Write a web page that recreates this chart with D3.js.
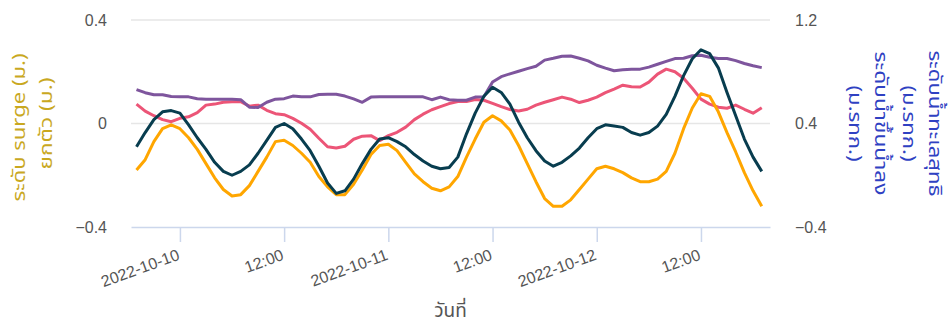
<!DOCTYPE html>
<html>
<head>
<meta charset="utf-8">
<script src="https://cdn.jsdelivr.net/npm/d3@7"></script>
<style>
  body { margin: 0; background: #fff; }
  svg { display: block; font-family: "Noto Sans Thai", "Noto Sans", "Open Sans", sans-serif; }
  .tick text { fill: #555; font-size: 16px; }
</style>
</head>
<body>
<div id="chart"></div>
<script>
// hourly samples, 2022-10-09 19:00 .. 2022-10-12 19:00
const times = d3.utcHour.range(new Date(Date.UTC(2022, 9, 9, 19)), new Date(Date.UTC(2022, 9, 12, 20)))

// ระดับน้ำขึ้นน้ำลง (right axis)
const tide = [0.04, 0.12, 0.26, 0.36, 0.39, 0.36, 0.29, 0.20, 0.09, -0.02, -0.11, -0.16, -0.15, -0.08, 0.03, 0.14,
  0.26, 0.27, 0.23, 0.17, 0.10, -0.01, -0.09, -0.15, -0.15, -0.07, 0.04, 0.16, 0.23, 0.24, 0.19, 0.10,
  0.01, -0.05, -0.10, -0.12, -0.09, -0.01, 0.14, 0.28, 0.41, 0.46, 0.42, 0.35, 0.23, 0.09, -0.05, -0.18,
  -0.24, -0.24, -0.19, -0.11, -0.03, 0.05, 0.07, 0.05, 0.02, -0.02, -0.05, -0.05, -0.03, 0.03, 0.17, 0.36,
  0.52, 0.63, 0.61, 0.49, 0.33, 0.18, 0.02, -0.12, -0.24]

// ระดับน้ำทะเลสุทธิ (right axis)
const netLevel = [0.22, 0.33, 0.43, 0.49, 0.50, 0.48, 0.39, 0.29, 0.20, 0.10, 0.03, 0.00, 0.03, 0.08, 0.17, 0.27,
  0.37, 0.40, 0.36, 0.28, 0.19, 0.07, -0.06, -0.14, -0.12, -0.03, 0.09, 0.20, 0.28, 0.29, 0.26, 0.22,
  0.16, 0.11, 0.07, 0.05, 0.06, 0.14, 0.32, 0.48, 0.61, 0.68, 0.64, 0.55, 0.41, 0.29, 0.19, 0.11,
  0.07, 0.10, 0.15, 0.21, 0.29, 0.36, 0.39, 0.38, 0.37, 0.33, 0.31, 0.33, 0.38, 0.47, 0.61, 0.77,
  0.90, 0.97, 0.94, 0.83, 0.64, 0.46, 0.28, 0.14, 0.03]

// ระดับ surge (left axis)
const surge = [0.075, 0.048, 0.030, 0.015, 0.007, 0.020, 0.026, 0.042, 0.071, 0.075, 0.082, 0.084, 0.084, 0.067, 0.071, 0.051,
  0.038, 0.034, 0.020, 0.001, -0.022, -0.057, -0.090, -0.095, -0.088, -0.061, -0.049, -0.047, -0.066, -0.047, -0.034, -0.014,
  0.015, 0.036, 0.053, 0.065, 0.077, 0.085, 0.085, 0.093, 0.090, 0.078, 0.065, 0.054, 0.048, 0.055, 0.071, 0.082,
  0.092, 0.102, 0.094, 0.081, 0.090, 0.102, 0.119, 0.133, 0.148, 0.142, 0.141, 0.160, 0.191, 0.210, 0.200, 0.175,
  0.136, 0.094, 0.075, 0.063, 0.059, 0.071, 0.055, 0.040, 0.061]

// ยกตัว (left axis)
const rise = [0.131, 0.119, 0.111, 0.111, 0.104, 0.103, 0.103, 0.096, 0.094, 0.094, 0.094, 0.094, 0.092, 0.063, 0.062, 0.082,
  0.094, 0.096, 0.106, 0.103, 0.103, 0.112, 0.113, 0.113, 0.106, 0.095, 0.082, 0.102, 0.103, 0.103, 0.103, 0.103,
  0.103, 0.103, 0.092, 0.102, 0.092, 0.090, 0.090, 0.102, 0.103, 0.160, 0.181, 0.192, 0.202, 0.212, 0.221, 0.245,
  0.252, 0.260, 0.261, 0.252, 0.242, 0.225, 0.214, 0.204, 0.208, 0.210, 0.210, 0.218, 0.229, 0.240, 0.251, 0.252,
  0.262, 0.264, 0.256, 0.251, 0.251, 0.243, 0.232, 0.223, 0.216]

const xTickTimes = [new Date(Date.UTC(2022, 9, 10, 0)), new Date(Date.UTC(2022, 9, 10, 12)),
  new Date(Date.UTC(2022, 9, 11, 0)), new Date(Date.UTC(2022, 9, 11, 12)),
  new Date(Date.UTC(2022, 9, 12, 0)), new Date(Date.UTC(2022, 9, 12, 12))]
const xTickLabels = ['2022-10-10', '12:00', '2022-10-11', '12:00', '2022-10-12', '12:00']
const leftTicks = [-0.4, 0, 0.4]
const rightTicks = [-0.4, 0.4, 1.2]

const width = 950
const height = 329
const margin = { top: 20, right: 180, bottom: 102, left: 131 }

const svg = d3.select('#chart').append('svg')
  .attr('width', width)
  .attr('height', height)

const x = d3.scaleUtc()
  .domain([new Date(Date.UTC(2022, 9, 9, 18, 22)), new Date(Date.UTC(2022, 9, 12, 19, 57))])
  .range([margin.left, width - margin.right])

const yLeft = d3.scaleLinear().domain([-0.4, 0.4]).range([height - margin.bottom, margin.top])
const yRight = d3.scaleLinear().domain([-0.4, 1.2]).range([height - margin.bottom, margin.top])

const fmt = (v) => v < 0 ? '\u2212' + Math.abs(v) : String(v)

// horizontal grid
svg.append('g')
  .selectAll('line')
  .data(leftTicks.filter((d) => d !== -0.4))
  .join('line')
  .attr('x1', margin.left)
  .attr('x2', width - margin.right)
  .attr('y1', (d) => yLeft(d))
  .attr('y2', (d) => yLeft(d))
  .attr('stroke', '#e6e6e6')
  .attr('stroke-width', 1.5)

// x axis
const xAxis = svg.append('g')
  .attr('transform', `translate(0, ${height - margin.bottom})`)
  .call(d3.axisBottom(x).tickValues(xTickTimes).tickFormat((d, i) => xTickLabels[i]).tickSize(15).tickSizeOuter(0))
xAxis.select('.domain').attr('stroke', '#ccd7ec').attr('stroke-width', 1.5)
xAxis.selectAll('.tick line').attr('stroke', '#ccd7ec').attr('stroke-width', 1.5)
xAxis.selectAll('.tick text')
  .attr('text-anchor', 'end')
  .attr('x', 0)
  .attr('y', 0)
  .attr('dy', '0.75em')
  .attr('transform', 'translate(-4, 21) rotate(-20)')

// left axis
const leftAxis = svg.append('g')
  .attr('transform', `translate(${margin.left}, 0)`)
  .call(d3.axisLeft(yLeft).tickValues(leftTicks).tickFormat(fmt).tickSize(0).tickPadding(24))
leftAxis.select('.domain').remove()

// right axis
const rightAxis = svg.append('g')
  .attr('transform', `translate(${width - margin.right}, 0)`)
  .call(d3.axisRight(yRight).tickValues(rightTicks).tickFormat(fmt).tickSize(0).tickPadding(25))
rightAxis.select('.domain').remove()

// lines
const series = [
  { values: surge, y: yLeft, color: '#ec5577' },
  { values: rise, y: yLeft, color: '#7e559d' },
  { values: tide, y: yRight, color: '#ffa600' },
  { values: netLevel, y: yRight, color: '#083d4f' }
]

series.forEach((s) => {
  const line = d3.line()
    .x((d, i) => x(times[i]))
    .y((d) => s.y(d))
  svg.append('path')
    .datum(s.values)
    .attr('d', line)
    .attr('fill', 'none')
    .attr('stroke', s.color)
    .attr('stroke-width', 3)
    .attr('stroke-linejoin', 'round')
})

// axis titles
const midY = (margin.top + height - margin.bottom) / 2

const leftTitles = [
  { text: 'ระดับ surge (ม.)', x: 25, dy: 4, len: 148 },
  { text: 'ยกตัว (ม.)', x: 52, dy: 0, len: 92 }
]
svg.append('g')
  .selectAll('text')
  .data(leftTitles)
  .join('text')
  .attr('transform', (d) => `translate(${d.x}, ${midY + d.dy}) rotate(-90)`)
  .attr('text-anchor', 'middle')
  .attr('fill', '#c9a81f')
  .attr('font-size', 18)
  .attr('textLength', (d) => d.len)
  .attr('lengthAdjust', 'spacingAndGlyphs')
  .text((d) => d.text)

const rightTitles = [
  { text: 'ระดับน้ำทะเลสุทธิ', x: 929, len: 146 },
  { text: '(ม.รทก.)', x: 903, len: 76 },
  { text: 'ระดับน้ำขึ้นน้ำลง', x: 875, len: 144 },
  { text: '(ม.รทก.)', x: 849, len: 76 }
]
svg.append('g')
  .selectAll('text')
  .data(rightTitles)
  .join('text')
  .attr('transform', (d) => `translate(${d.x}, ${midY}) rotate(90)`)
  .attr('text-anchor', 'middle')
  .attr('fill', '#2f41c2')
  .attr('font-size', 18)
  .attr('textLength', (d) => d.len)
  .attr('lengthAdjust', 'spacingAndGlyphs')
  .text((d) => d.text)

svg.append('text')
  .attr('x', (margin.left + width - margin.right) / 2)
  .attr('y', 317)
  .attr('text-anchor', 'middle')
  .attr('fill', '#555')
  .attr('font-size', 19)
  .text('วันที่')
</script>
</body>
</html>
